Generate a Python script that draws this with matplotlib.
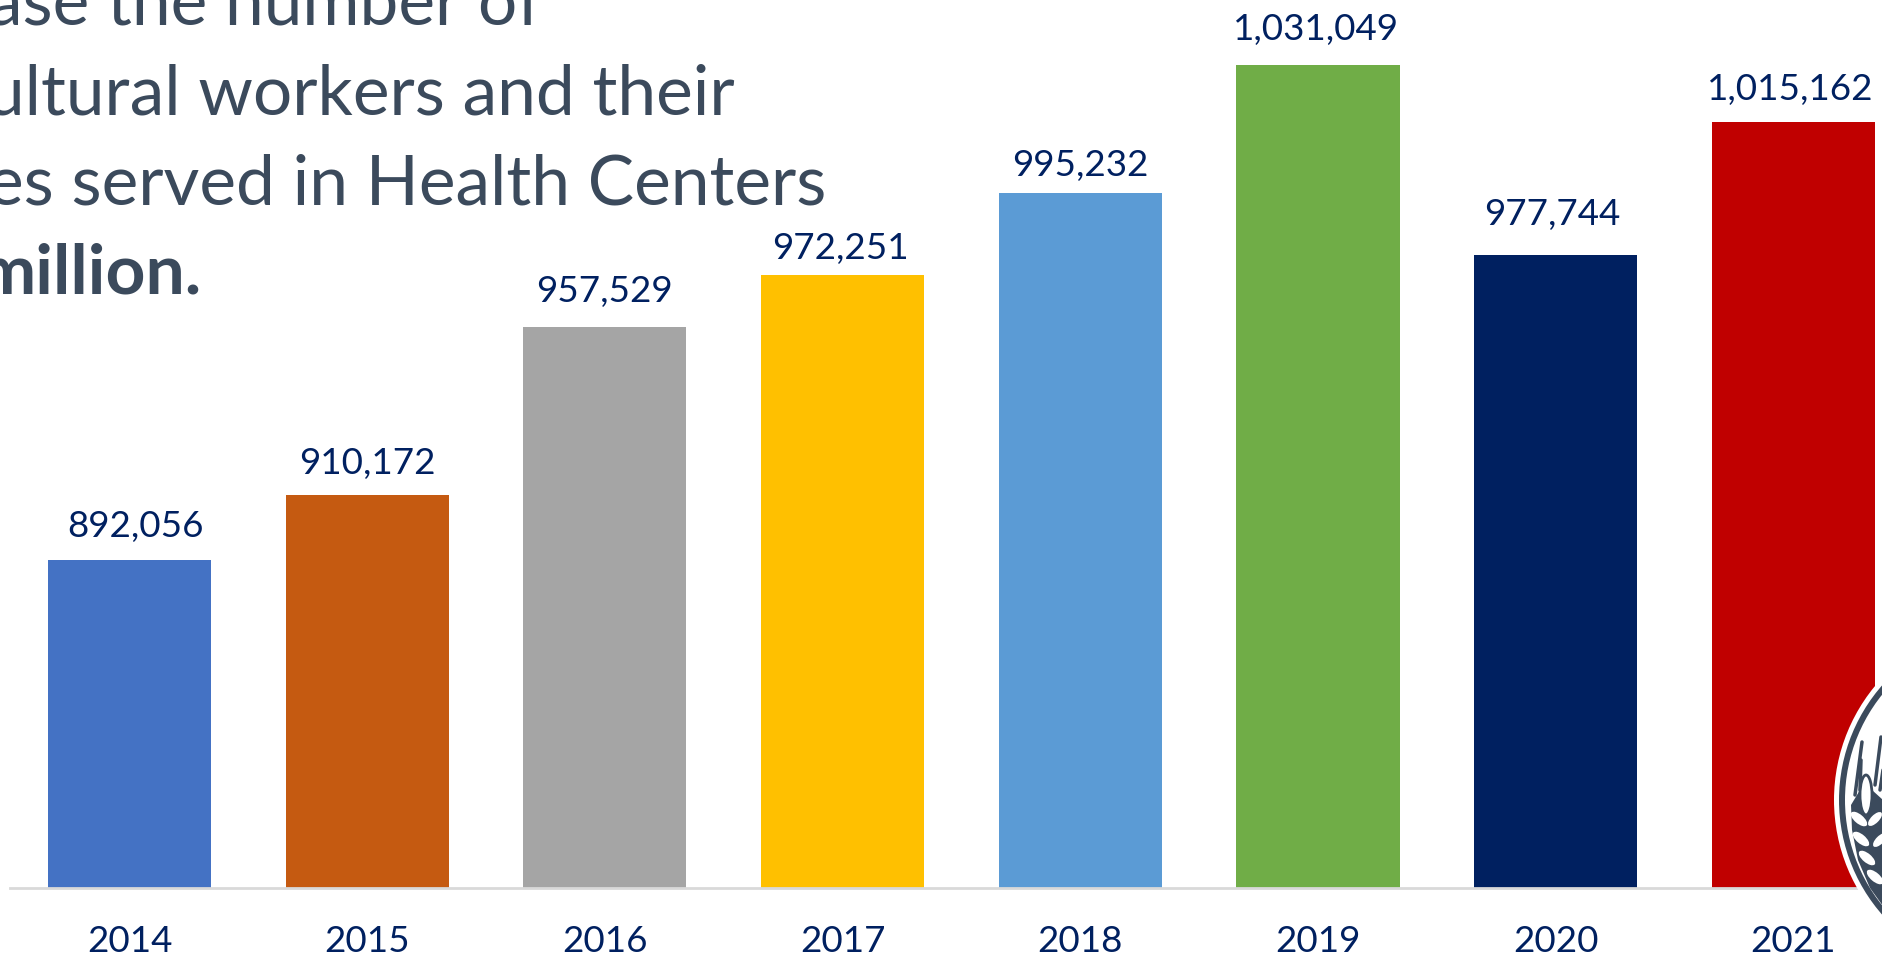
import matplotlib
matplotlib.use("Agg")
import matplotlib.pyplot as plt
from matplotlib.patches import Circle, Ellipse, Polygon

years = ['2014', '2015', '2016', '2017', '2018', '2019', '2020', '2021']
patients = [892056, 910172, 957529, 972251, 995232, 1031049, 977744, 1015162]
bar_colors = ['#4472C4', '#C55A11', '#A5A5A5', '#FFC000', '#5B9BD5', '#70AD47', '#002060', '#C00000']
heading_lines = ['ase the number of', 'ultural workers and their', 'es served in Health Centers', 'million.']
heading_weights = ['normal', 'normal', 'normal', 'bold']

# the value labels were placed by hand in the original, (dx, dy) in pixels
label_dx = [6, 0, 0, -2, 0, -2, -3, -3]
label_dy = [17, 15, 19, 10, 11, 19, 24, 16]

W, H = 1883, 958
DARK = '#3B4A5C'
NAVY = '#002060'

plt.rcParams['font.family'] = ['Lato', 'DejaVu Sans']

fig = plt.figure(figsize=(W / 100, H / 100), dpi=100, facecolor='white')

# chart axes run off the right and top edge of the picture
ax = fig.add_axes([10 / W, (H - 887.5) / H, (W - 10) / W, 887.5 / H])
ax.bar(range(len(years)), patients, width=0.686, color=bar_colors, zorder=2)
ax.set_xlim(-0.5027, 7.377)
ax.set_ylim(800000, 1049430)
ax.set_xticks(range(len(years)))
ax.set_xticklabels(years, fontsize=26.5, color=NAVY)
ax.tick_params(axis='x', length=0, pad=27)
ax.set_yticks([])
for side in ['top', 'left', 'right']:
    ax.spines[side].set_visible(False)
ax.spines['bottom'].set_color('#D9D9D9')
ax.spines['bottom'].set_linewidth(2)

for i, v in enumerate(patients):
    ax.annotate(f'{v:,}', (i, v), xytext=(label_dx[i] * 0.72, label_dy[i] * 0.72), textcoords='offset points',
                ha='center', va='bottom', fontsize=26.5, color=NAVY)

# overlay in pixel coordinates for heading and seal
over = fig.add_axes([0, 0, 1, 1], facecolor='none')
over.set_xlim(0, W)
over.set_ylim(H, 0)
over.axis('off')

for line, weight, right, base in zip(heading_lines, heading_weights, [542, 735, 826, 202], [24, 114, 204, 294]):
    over.text(right, base, line, ha='right', va='baseline', fontsize=50, color=DARK, fontweight=weight)

# seal, mostly outside the picture
cx, cy = 2013, 800
over.add_patch(Circle((cx, cy), 179, fc='white', ec='none', zorder=3))
over.add_patch(Circle((cx, cy), 174, fc=DARK, ec='none', zorder=4))
over.add_patch(Circle((cx, cy), 168, fc='white', ec='none', zorder=5))

# wheat ear: awns, dark body, then white grains on top
for x0, y0, x1, y1 in [(1855, 795, 1862, 742), (1860, 790, 1861, 760), (1875, 785, 1881, 737), (1880, 790, 1883, 770)]:
    over.plot([x0, x1], [y0, y1], color=DARK, lw=2.5, solid_capstyle='round', zorder=7)
over.add_patch(Polygon([[1851, 805], [1852, 830], [1858, 860], [1870, 888], [1883, 906], [1883, 800], [1872, 790],
                        [1866, 815], [1860, 790]], fc=DARK, ec='none', zorder=7))
over.add_patch(Ellipse((1866, 795), 12, 40, fc='white', ec=DARK, lw=2, zorder=8))
for gx, gy in [(1859, 819), (1861, 839), (1867, 858), (1875, 877)]:
    over.add_patch(Ellipse((gx, gy), 20, 9, angle=40, fc='white', ec='none', zorder=8))
for gx, gy in [(1875, 819), (1880, 840)]:
    over.add_patch(Ellipse((gx, gy), 18, 8, angle=-45, fc='white', ec='none', zorder=8))

fig.savefig('out.png', dpi=100)
